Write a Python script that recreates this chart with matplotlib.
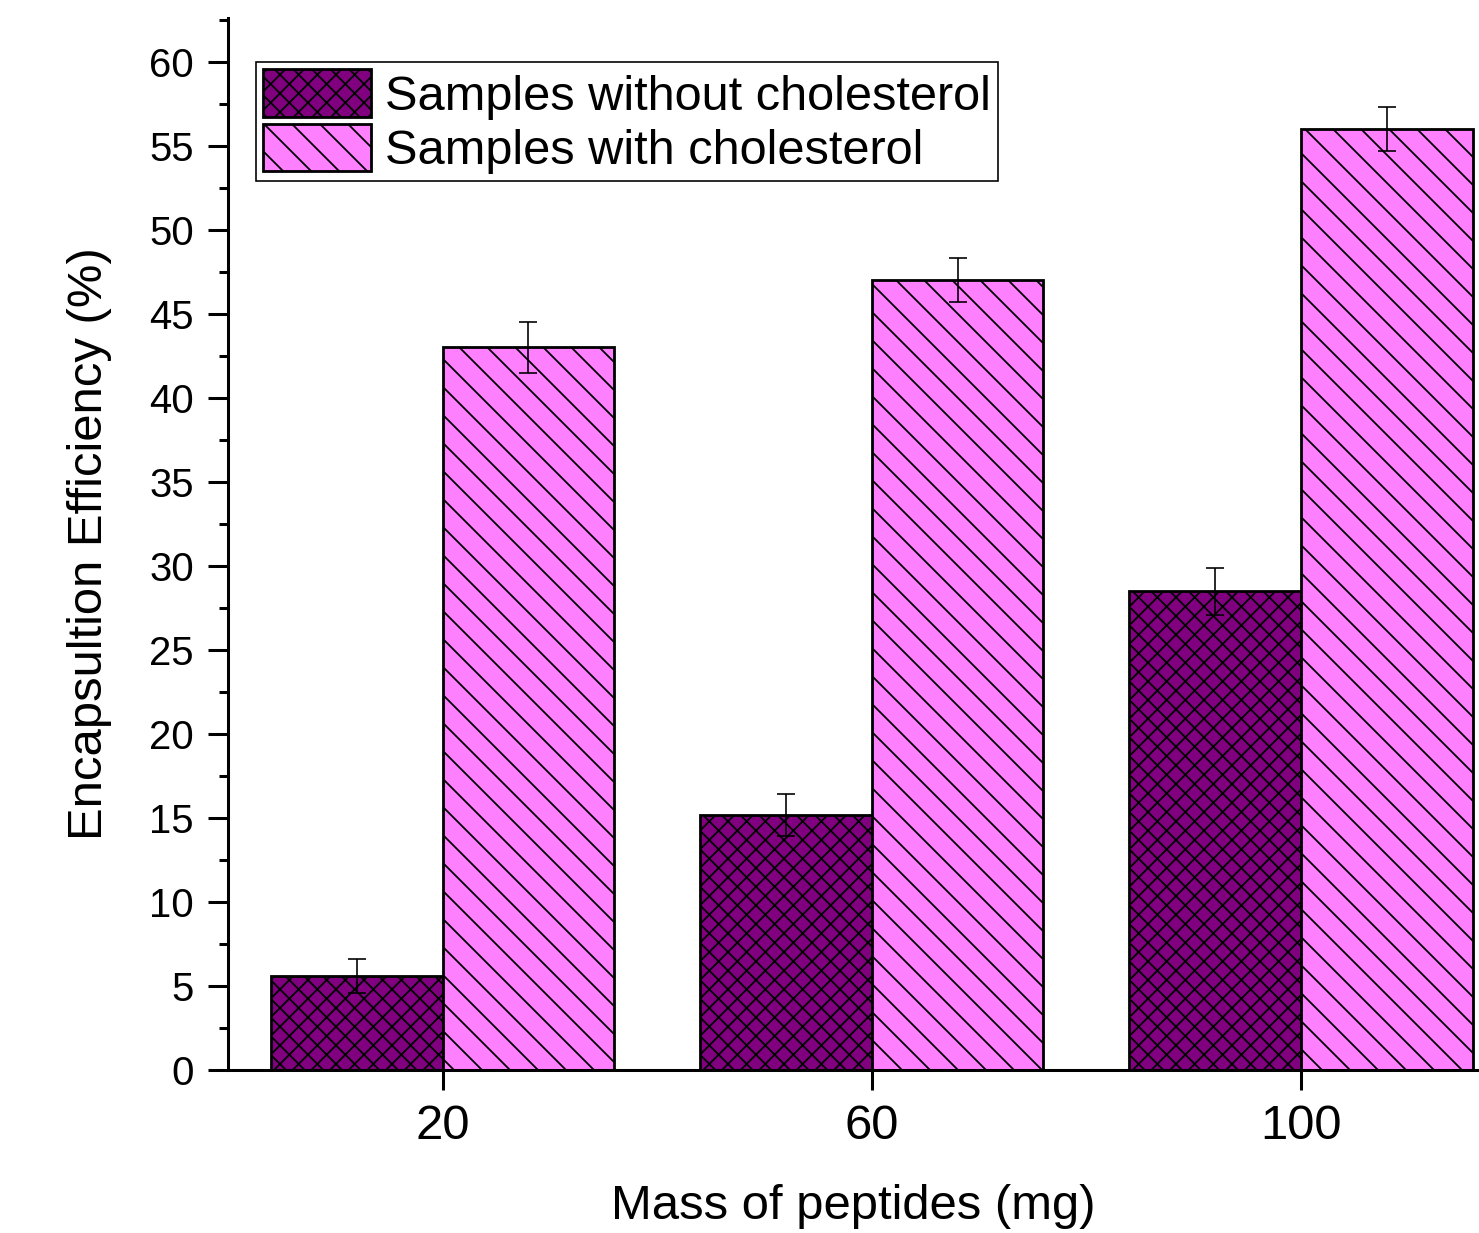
import matplotlib
matplotlib.use("Agg")
import matplotlib.pyplot as plt
import numpy as np
from matplotlib.ticker import MultipleLocator

plt.rcParams['font.family'] = ['Liberation Sans', 'DejaVu Sans']
plt.rcParams['hatch.linewidth'] = 0.38
plt.rcParams['hatch.color'] = 'black'

mass = ['20', '60', '100']
without_chol = [5.6, 15.2, 28.5]
without_err = [1.0, 1.25, 1.4]
with_chol = [43.0, 47.0, 56.0]
with_err = [1.5, 1.3, 1.3]

DPI = 336
fig = plt.figure(figsize=(1479 / DPI, 1233 / DPI), dpi=DPI)
ax = fig.add_axes([228 / 1479, 1 - 1070 / 1233, 1 - 228 / 1479, (1070 - 18) / 1233])

x = np.arange(len(mass))
w = 0.4
# more hatch characters -> denser hatch lines
ax.bar(x - w / 2, without_chol, w, color='#800080', edgecolor='black',
       linewidth=0.6, hatch='xxxxxx', label='Samples without cholesterol')
ax.bar(x + w / 2, with_chol, w, color='#ff80ff', edgecolor='black',
       linewidth=0.6, hatch='\\\\\\\\', label='Samples with cholesterol')
ax.errorbar(x - w / 2, without_chol, yerr=without_err, fmt='none',
            ecolor='black', elinewidth=0.35, capsize=1.9, capthick=0.35)
ax.errorbar(x + w / 2, with_chol, yerr=with_err, fmt='none',
            ecolor='black', elinewidth=0.35, capsize=1.9, capthick=0.35)

ax.set_xlim(-0.5, 2.415)
ax.set_ylim(0, 62.6)
ax.set_xticks(x)
ax.set_xticklabels(mass)
ax.yaxis.set_major_locator(MultipleLocator(5))
ax.yaxis.set_minor_locator(MultipleLocator(2.5))

for s in ['top', 'right']:
    ax.spines[s].set_visible(False)
for s in ['left', 'bottom']:
    ax.spines[s].set_linewidth(0.65)
ax.patch.set_alpha(0)

ax.tick_params(axis='x', which='major', direction='out', length=4.3, width=0.65,
               labelsize=10.5, pad=3)
ax.tick_params(axis='x', which='minor', bottom=False)
ax.tick_params(axis='y', which='major', direction='out', length=4.3, width=0.65,
               labelsize=8.6, pad=3)
ax.tick_params(axis='y', which='minor', direction='out', length=1.9, width=0.65)

ax.set_xlabel('Mass of peptides (mg)', fontsize=10.5, labelpad=7.5)
ax.set_ylabel('Encapsultion Efficiency (%)', fontsize=10.5, labelpad=8)

leg = ax.legend(loc='upper left', bbox_to_anchor=(0.0224, 0.958), borderaxespad=0,
                fontsize=10.45, frameon=True, fancybox=False, framealpha=1,
                edgecolor='black', handlelength=2.2, handleheight=1.12,
                labelspacing=0.08, borderpad=0.15, handletextpad=0.3)
leg.get_frame().set_linewidth(0.35)

fig.savefig('out.png', dpi=DPI)
